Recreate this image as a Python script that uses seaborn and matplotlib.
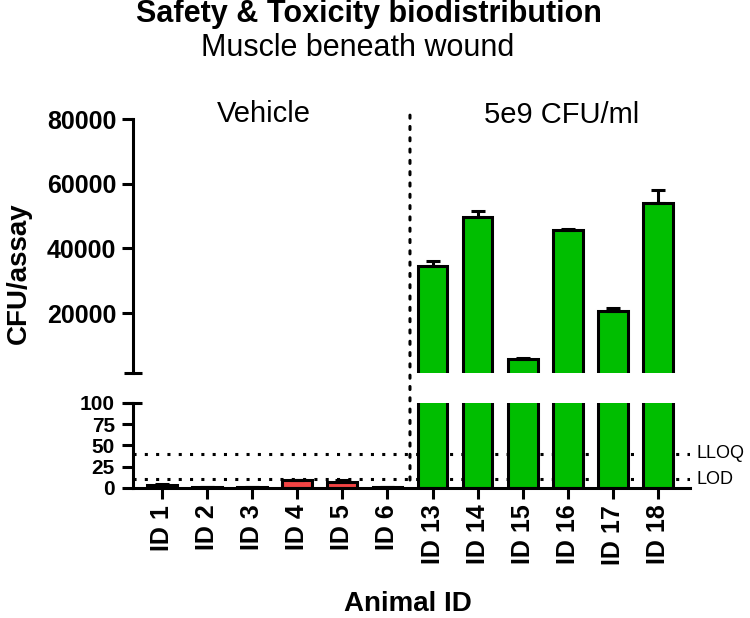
import numpy as np
import pandas as pd
import matplotlib.pyplot as plt
import seaborn as sns
from matplotlib.patches import ConnectionPatch

# datos
animal_ids = ['ID 1', 'ID 2', 'ID 3', 'ID 4', 'ID 5', 'ID 6',
              'ID 13', 'ID 14', 'ID 15', 'ID 16', 'ID 17', 'ID 18']
grupos = ['Vehicle'] * 6 + ['5e9 CFU/ml'] * 6
cfu_media = [3.5, 1.5, 1.5, 9, 7, 1,
             34500, 49700, 5700, 45800, 20600, 53900]
cfu_error = [1.5, 0, 0, 0.5, 2, 0,
             1500, 1900, 500, 200, 900, 4100]
lloq = 40
lod = 10

df = pd.DataFrame({'animal': animal_ids, 'grupo': grupos,
                   'cfu': cfu_media, 'err': cfu_error})

sns.set_style('ticks')
plt.rcParams['font.family'] = ['Liberation Sans', 'DejaVu Sans']
plt.rcParams.update({'text.color': 'black', 'axes.labelcolor': 'black',
                     'xtick.color': 'black', 'ytick.color': 'black',
                     'axes.edgecolor': 'black'})

colores = {'Vehicle': '#F24444', '5e9 CFU/ml': '#00BE00'}
lw = 2.2

fig = plt.figure(figsize=(7.5, 6.18), dpi=100)
ax_top = fig.add_axes([0.1773, 0.3964, 0.7427, 0.411])
ax_bot = fig.add_axes([0.1773, 0.2104, 0.7427, 0.1375])

xpos = np.arange(len(df))
for ax in (ax_top, ax_bot):
    sns.barplot(data=df, x='animal', y='cfu', hue='grupo', palette=colores,
                order=animal_ids, dodge=False, width=0.66, saturation=1,
                edgecolor='black', linewidth=lw, errorbar=None,
                legend=False, ax=ax, zorder=2)
    ax.errorbar(xpos, df['cfu'], yerr=[np.zeros(len(df)), df['err']],
                fmt='none', ecolor='black', elinewidth=lw, capsize=5,
                capthick=lw, zorder=3)
    ax.set_xlim(-0.643, 11.71)
    ax.set_xlabel('')
    ax.set_ylabel('')
    for s in ax.spines.values():
        s.set_linewidth(lw)
    ax.tick_params(width=lw, length=8, labelsize=18, pad=4)

# panel superior
ax_top.set_ylim(1440, 80000)
ax_top.set_yticks([20000, 40000, 60000, 80000])
ax_top.spines['bottom'].set_visible(False)
ax_top.spines['top'].set_visible(False)
ax_top.spines['right'].set_visible(False)
ax_top.tick_params(axis='x', bottom=False, labelbottom=False)

# panel inferior
ax_bot.set_ylim(0, 100)
ax_bot.set_yticks([0, 25, 50, 75, 100])
ax_bot.spines['top'].set_visible(False)
ax_bot.spines['right'].set_visible(False)
ax_bot.tick_params(axis='y', labelsize=15, pad=5)
ax_bot.tick_params(axis='x', rotation=90, length=8)
ax_bot.axhline(lloq, color='black', lw=lw, ls=(0, (1, 2.7)), zorder=0.5)
ax_bot.axhline(lod, color='black', lw=lw, ls=(0, (1, 2.7)), zorder=0.5)
ax_bot.text(11.86, lloq, 'LLOQ', fontsize=13, va='center', ha='left')
ax_bot.text(11.86, lod, 'LOD', fontsize=13, va='center', ha='left')

for ax in (ax_top, ax_bot):
    plt.setp(ax.get_yticklabels(), fontweight='bold')
    plt.setp(ax.get_xticklabels(), fontweight='bold')

# marcas del corte de eje
ax_top.plot(0, 0, marker='_', ms=13, mew=lw, color='black',
            transform=ax_top.transAxes, clip_on=False)
ax_bot.plot(0, 1, marker='_', ms=13, mew=lw, color='black',
            transform=ax_bot.transAxes, clip_on=False)

# linea vertical separando grupos
sep = ConnectionPatch(xyA=(5.5, 81200), coordsA=ax_top.transData,
                      xyB=(5.5, 0), coordsB=ax_bot.transData,
                      color='black', lw=lw, ls=(0, (1, 2.7)))
fig.add_artist(sep)

fig.text(264 / 750, 1 - 114 / 618, 'Vehicle', fontsize=21,
         ha='center', va='center')
fig.text(562 / 750, 1 - 115 / 618, '5e9 CFU/ml', fontsize=21,
         ha='center', va='center')

fig.text(369 / 750, 1 - 14 / 618, 'Safety & Toxicity biodistribution',
         fontsize=22, fontweight='bold', ha='center', va='center')
fig.text(358 / 750, 1 - 48 / 618, 'Muscle beneath wound',
         fontsize=22, ha='center', va='center')

fig.text(19 / 750, 1 - 273 / 618, 'CFU/assay', fontsize=20,
         fontweight='bold', rotation=90, ha='center', va='center')
fig.text(408 / 750, 1 - 604 / 618, 'Animal ID', fontsize=20,
         fontweight='bold', ha='center', va='center')

fig.savefig('out.png', dpi=100)
